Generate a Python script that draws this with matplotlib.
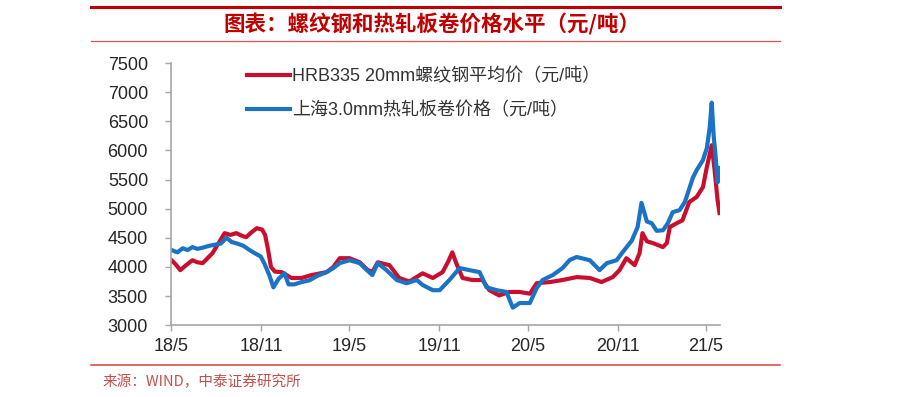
import matplotlib
matplotlib.use("Agg")
import matplotlib.pyplot as plt
import pandas as pd
from matplotlib.lines import Line2D

plt.rcParams["font.family"] = ["Liberation Sans", "Noto Sans CJK SC"]

TITLE = "图表：螺纹钢和热轧板卷价格水平（元/吨）"
SOURCE = "来源：WIND，中泰证券研究所"
RED_LABEL = "HRB335 20mm螺纹钢平均价（元/吨）"
BLUE_LABEL = "上海3.0mm热轧板卷价格（元/吨）"

red_dates = [
    "2018-05-01", "2018-05-09", "2018-05-19", "2018-05-31", "2018-06-13", "2018-06-23",
    "2018-07-04", "2018-07-14", "2018-07-24", "2018-08-05", "2018-08-18", "2018-08-30",
    "2018-09-11", "2018-09-21", "2018-10-01", "2018-10-13", "2018-10-23", "2018-11-03",
    "2018-11-09", "2018-11-15", "2018-11-21", "2018-11-29", "2018-12-13", "2019-01-02",
    "2019-01-23", "2019-02-12", "2019-03-15", "2019-03-29", "2019-04-11", "2019-05-01",
    "2019-05-22", "2019-06-07", "2019-06-17", "2019-06-28", "2019-07-22", "2019-08-11",
    "2019-09-01", "2019-09-28", "2019-10-19", "2019-11-08", "2019-11-20", "2019-11-28",
    "2019-12-06", "2019-12-19", "2020-01-08", "2020-01-29", "2020-02-12", "2020-03-03",
    "2020-03-24", "2020-04-14", "2020-05-05", "2020-05-19", "2020-06-15", "2020-07-11",
    "2020-08-09", "2020-09-05", "2020-09-29", "2020-10-22", "2020-11-05", "2020-11-19",
    "2020-12-06", "2020-12-16", "2020-12-22", "2020-12-31", "2021-01-12", "2021-02-02",
    "2021-02-10", "2021-02-16", "2021-03-02", "2021-03-14", "2021-03-28", "2021-04-12",
    "2021-04-25", "2021-05-03", "2021-05-13", "2021-05-19", "2021-05-25", "2021-05-29",
]
red_values = [
    4115, 4050, 3945, 4030, 4115, 4080,
    4065, 4150, 4235, 4400, 4580, 4550,
    4580, 4540, 4510, 4600, 4665, 4640,
    4550, 4300, 4000, 3920, 3910, 3810,
    3810, 3860, 3910, 4000, 4150, 4150,
    4080, 3950, 3910, 4080, 4030, 3810,
    3750, 3890, 3810, 3910, 4100, 4250,
    4065, 3810, 3775, 3775, 3600, 3510,
    3570, 3570, 3540, 3720, 3740, 3775,
    3825, 3810, 3740, 3825, 3945, 4150,
    4030, 4235, 4580, 4440, 4410, 4340,
    4410, 4685, 4750, 4800, 5115, 5200,
    5370, 5715, 6090, 5660, 5150, 4925,
]

blue_dates = [
    "2018-05-01", "2018-05-13", "2018-05-24", "2018-06-03", "2018-06-13", "2018-06-23",
    "2018-07-04", "2018-07-16", "2018-07-28", "2018-08-10", "2018-08-22", "2018-09-01",
    "2018-09-13", "2018-09-26", "2018-10-08", "2018-10-20", "2018-10-31", "2018-11-08",
    "2018-11-18", "2018-11-26", "2018-12-07", "2018-12-19", "2018-12-27", "2019-01-08",
    "2019-01-23", "2019-02-08", "2019-02-25", "2019-03-15", "2019-03-29", "2019-04-11",
    "2019-05-01", "2019-05-22", "2019-06-05", "2019-06-17", "2019-06-28", "2019-07-16",
    "2019-08-06", "2019-08-26", "2019-09-16", "2019-09-28", "2019-10-19", "2019-11-02",
    "2019-11-22", "2019-12-13", "2020-01-02", "2020-01-23", "2020-02-06", "2020-02-27",
    "2020-03-18", "2020-03-31", "2020-04-14", "2020-05-05", "2020-05-19", "2020-05-31",
    "2020-06-21", "2020-07-11", "2020-07-26", "2020-08-09", "2020-09-05", "2020-09-25",
    "2020-10-10", "2020-10-30", "2020-11-11", "2020-11-30", "2020-12-12", "2020-12-20",
    "2020-12-31", "2021-01-10", "2021-01-20", "2021-02-02", "2021-02-12", "2021-02-22",
    "2021-03-08", "2021-03-19", "2021-03-29", "2021-04-04", "2021-04-12", "2021-04-25",
    "2021-05-03", "2021-05-09", "2021-05-13", "2021-05-17", "2021-05-21", "2021-05-25",
    "2021-05-27",
]
blue_values = [
    4290, 4250, 4320, 4290, 4340, 4310,
    4330, 4360, 4380, 4400, 4500, 4430,
    4400, 4360, 4290, 4230, 4180, 4050,
    3850, 3650, 3800, 3890, 3700, 3700,
    3740, 3770, 3850, 3910, 3980, 4065,
    4115, 4065, 3950, 3860, 4065, 3945,
    3775, 3720, 3775, 3690, 3600, 3600,
    3775, 3980, 3945, 3910, 3650, 3600,
    3570, 3300, 3380, 3380, 3635, 3775,
    3860, 3980, 4120, 4170, 4115, 3945,
    4065, 4115, 4250, 4450, 4685, 5100,
    4780, 4750, 4620, 4630, 4750, 4940,
    4975, 5115, 5370, 5525, 5660, 5835,
    6040, 6400, 6820, 6250, 5900, 5450,
    5700,
]

tick_dates = ["2018-05-01", "2018-11-01", "2019-05-01", "2019-11-01",
              "2020-05-01", "2020-11-01", "2021-05-01"]
tick_labels = ["18/5", "18/11", "19/5", "19/11", "20/5", "20/11", "21/5"]
y_ticks = list(range(3000, 7501, 500))

RED = "#c8102e"
BLUE = "#1a73c4"
BRAND = "#c00000"

fig = plt.figure(figsize=(9, 3.97), dpi=100)
ax = fig.add_axes([0.19, 0.181, 0.61, 0.66])

ax.plot(pd.to_datetime(red_dates), red_values, color=RED, linewidth=3.0,
        solid_joinstyle="round", label=RED_LABEL)
ax.plot(pd.to_datetime(blue_dates), blue_values, color=BLUE, linewidth=3.0,
        solid_joinstyle="round", label=BLUE_LABEL)

ax.set_xlim(pd.Timestamp("2018-04-30"), pd.Timestamp("2021-05-30"))
ax.set_ylim(3000, 7500)
ax.set_yticks(y_ticks)
ax.set_xticks(pd.to_datetime(tick_dates))
ax.set_xticklabels(tick_labels)

for side in ["top", "right"]:
    ax.spines[side].set_visible(False)
for side in ["left", "bottom"]:
    ax.spines[side].set_color("#a6a6a6")
    ax.spines[side].set_linewidth(1.2)
ax.tick_params(axis="both", colors="#a6a6a6", length=4, width=1.0,
               labelcolor="#262626", labelsize=13)
ax.tick_params(axis="y", pad=12.5)
ax.tick_params(axis="x", pad=5)

handles = [Line2D([], [], color=RED, linewidth=3.0), Line2D([], [], color=BLUE, linewidth=3.0)]
leg = ax.legend(handles, [RED_LABEL, BLUE_LABEL], loc="upper left",
                bbox_to_anchor=(0.138, 0.98), frameon=False, fontsize=13,
                handlelength=2.4, handletextpad=0.1, labelspacing=0.9,
                borderaxespad=0.0, borderpad=0.0)
for t in leg.get_texts():
    t.set_color("#333333")

# header and footer rules
fig.add_artist(Line2D([0.101, 0.867], [0.983, 0.983], color=BRAND, linewidth=2.2))
fig.add_artist(Line2D([0.101, 0.867], [0.897, 0.897], color="#d9534f", linewidth=0.9))
fig.add_artist(Line2D([0.101, 0.867], [0.081, 0.081], color="#d9534f", linewidth=1.2))

fig.text(0.48, 0.938, TITLE, ha="center", va="center", color=BRAND,
         fontsize=15.5, fontweight="bold", family=["Noto Sans CJK SC", "DejaVu Sans"])
fig.text(0.114, 0.038, SOURCE, ha="left", va="center", color="#c0504d",
         fontsize=10.5, family=["Noto Sans CJK SC", "DejaVu Sans"])

fig.savefig("out.png", dpi=100)
